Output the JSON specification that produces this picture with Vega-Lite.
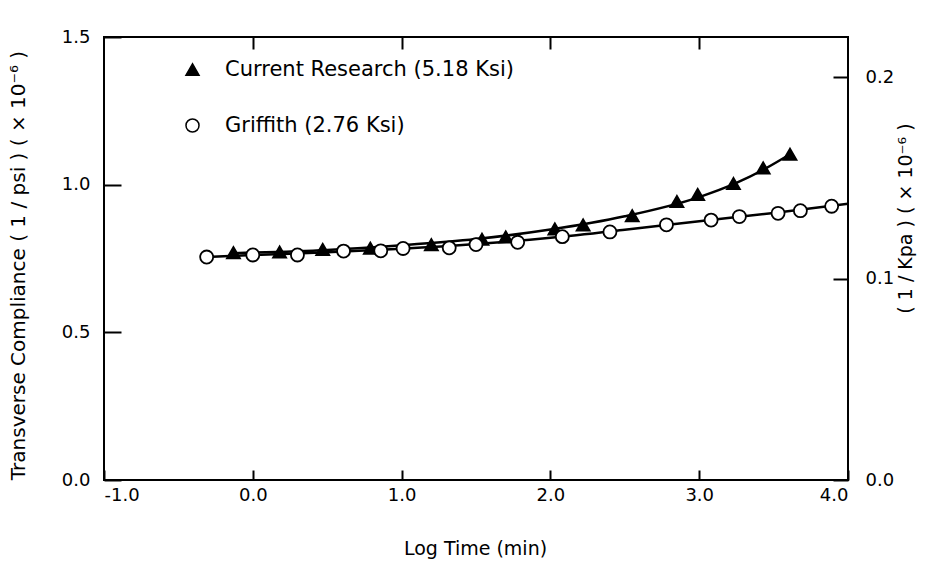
{
  "$schema": "https://vega.github.io/schema/vega-lite/v6.json",
  "width": 744,
  "height": 443,
  "autosize": {"type": "none"},
  "padding": {"left": 104, "top": 37, "right": 95, "bottom": 90},
  "background": "white",
  "config": {
    "view": {"stroke": "black", "strokeWidth": 2},
    "font": "DejaVu Sans",
    "axis": {
      "grid": false,
      "domain": false,
      "tickColor": "black",
      "tickWidth": 2,
      "labelColor": "black",
      "titleColor": "black",
      "labelFont": "DejaVu Sans",
      "titleFont": "DejaVu Sans",
      "labelFontSize": 18,
      "titleFontSize": 19,
      "titleFontWeight": "normal"
    }
  },
  "datasets": {
    "curves": [
      {"series": "Griffith (2.76 Ksi)", "logTime": -0.31, "compliance": 0.755},
      {"series": "Griffith (2.76 Ksi)", "logTime": 0.0, "compliance": 0.762},
      {"series": "Griffith (2.76 Ksi)", "logTime": 0.5, "compliance": 0.771},
      {"series": "Griffith (2.76 Ksi)", "logTime": 1.0, "compliance": 0.783},
      {"series": "Griffith (2.76 Ksi)", "logTime": 1.5, "compliance": 0.799},
      {"series": "Griffith (2.76 Ksi)", "logTime": 2.0, "compliance": 0.82},
      {"series": "Griffith (2.76 Ksi)", "logTime": 2.5, "compliance": 0.847},
      {"series": "Griffith (2.76 Ksi)", "logTime": 3.0, "compliance": 0.876},
      {"series": "Griffith (2.76 Ksi)", "logTime": 3.5, "compliance": 0.904},
      {"series": "Griffith (2.76 Ksi)", "logTime": 4.0, "compliance": 0.935},
      {"series": "Current Research (5.18 Ksi)", "logTime": -0.13, "compliance": 0.768},
      {"series": "Current Research (5.18 Ksi)", "logTime": 0.5, "compliance": 0.779},
      {"series": "Current Research (5.18 Ksi)", "logTime": 1.0, "compliance": 0.795},
      {"series": "Current Research (5.18 Ksi)", "logTime": 1.5, "compliance": 0.816},
      {"series": "Current Research (5.18 Ksi)", "logTime": 2.0, "compliance": 0.848},
      {"series": "Current Research (5.18 Ksi)", "logTime": 2.5, "compliance": 0.893},
      {"series": "Current Research (5.18 Ksi)", "logTime": 3.0, "compliance": 0.958},
      {"series": "Current Research (5.18 Ksi)", "logTime": 3.25, "compliance": 1.006},
      {"series": "Current Research (5.18 Ksi)", "logTime": 3.45, "compliance": 1.056},
      {"series": "Current Research (5.18 Ksi)", "logTime": 3.61, "compliance": 1.103}
    ],
    "markers": [
      {"series": "Current Research (5.18 Ksi)", "logTime": -0.13, "compliance": 0.77},
      {"series": "Current Research (5.18 Ksi)", "logTime": 0.18, "compliance": 0.772},
      {"series": "Current Research (5.18 Ksi)", "logTime": 0.47, "compliance": 0.781},
      {"series": "Current Research (5.18 Ksi)", "logTime": 0.79, "compliance": 0.785},
      {"series": "Current Research (5.18 Ksi)", "logTime": 1.2, "compliance": 0.797},
      {"series": "Current Research (5.18 Ksi)", "logTime": 1.54, "compliance": 0.815},
      {"series": "Current Research (5.18 Ksi)", "logTime": 1.7, "compliance": 0.823},
      {"series": "Current Research (5.18 Ksi)", "logTime": 2.03, "compliance": 0.85},
      {"series": "Current Research (5.18 Ksi)", "logTime": 2.22, "compliance": 0.864},
      {"series": "Current Research (5.18 Ksi)", "logTime": 2.55, "compliance": 0.895},
      {"series": "Current Research (5.18 Ksi)", "logTime": 2.85, "compliance": 0.943},
      {"series": "Current Research (5.18 Ksi)", "logTime": 2.99, "compliance": 0.967},
      {"series": "Current Research (5.18 Ksi)", "logTime": 3.23, "compliance": 1.004},
      {"series": "Current Research (5.18 Ksi)", "logTime": 3.43, "compliance": 1.057},
      {"series": "Current Research (5.18 Ksi)", "logTime": 3.61, "compliance": 1.103},
      {"series": "Griffith (2.76 Ksi)", "logTime": -0.31, "compliance": 0.755},
      {"series": "Griffith (2.76 Ksi)", "logTime": 0.0, "compliance": 0.762},
      {"series": "Griffith (2.76 Ksi)", "logTime": 0.3, "compliance": 0.762},
      {"series": "Griffith (2.76 Ksi)", "logTime": 0.61, "compliance": 0.775},
      {"series": "Griffith (2.76 Ksi)", "logTime": 0.86, "compliance": 0.776},
      {"series": "Griffith (2.76 Ksi)", "logTime": 1.01, "compliance": 0.784},
      {"series": "Griffith (2.76 Ksi)", "logTime": 1.32, "compliance": 0.786},
      {"series": "Griffith (2.76 Ksi)", "logTime": 1.5, "compliance": 0.797},
      {"series": "Griffith (2.76 Ksi)", "logTime": 1.78, "compliance": 0.805},
      {"series": "Griffith (2.76 Ksi)", "logTime": 2.08, "compliance": 0.824},
      {"series": "Griffith (2.76 Ksi)", "logTime": 2.4, "compliance": 0.84},
      {"series": "Griffith (2.76 Ksi)", "logTime": 2.78, "compliance": 0.864},
      {"series": "Griffith (2.76 Ksi)", "logTime": 3.08, "compliance": 0.88},
      {"series": "Griffith (2.76 Ksi)", "logTime": 3.27, "compliance": 0.892},
      {"series": "Griffith (2.76 Ksi)", "logTime": 3.53, "compliance": 0.903},
      {"series": "Griffith (2.76 Ksi)", "logTime": 3.68, "compliance": 0.912},
      {"series": "Griffith (2.76 Ksi)", "logTime": 3.89, "compliance": 0.927}
    ]
  },
  "layer": [
    {
      "data": {"name": "curves"},
      "mark": {"type": "line", "color": "black", "strokeWidth": 2.5, "interpolate": "monotone"},
      "encoding": {
        "x": {
          "field": "logTime", "type": "quantitative",
          "scale": {"domain": [-1, 4], "nice": false, "zero": false},
          "axis": {
            "orient": "bottom", "values": [-1, 0, 1, 2, 3, 4], "format": ".1f",
            "labelExpr": "replace(datum.label, '\u2212', '-')",
            "tickSize": -10, "labelPadding": 16,
            "title": "Log Time (min)",
            "titleX": 371, "titleY": 68, "titleAlign": "center", "titleBaseline": "middle"
          }
        },
        "y": {
          "field": "compliance", "type": "quantitative",
          "scale": {"domain": [0, 1.5], "nice": false},
          "axis": {
            "orient": "left", "values": [0, 0.5, 1, 1.5], "format": ".1f",
            "tickSize": -17, "labelPadding": 31,
            "title": "Transverse Compliance  ( 1 / psi ) ( × 10⁻⁶ )",
            "titleFontSize": 20,
            "titleAngle": 270, "titleX": -86, "titleY": 228, "titleAlign": "center", "titleBaseline": "middle"
          }
        },
        "detail": {"field": "series"}
      }
    },
    {
      "data": {"name": "markers"},
      "mark": {"type": "point", "filled": true, "stroke": "black", "strokeWidth": 1.8, "opacity": 1},
      "encoding": {
        "x": {"field": "logTime", "type": "quantitative", "scale": {"domain": [-1, 4], "nice": false, "zero": false}, "axis": null},
        "y": {"field": "compliance", "type": "quantitative", "scale": {"domain": [0, 1.5], "nice": false}, "axis": null},
        "shape": {
          "field": "series", "type": "nominal",
          "scale": {"domain": ["Current Research (5.18 Ksi)", "Griffith (2.76 Ksi)"], "range": ["triangle-up", "circle"]},
          "legend": {
            "orient": "none", "legendX": 78, "legendY": 22, "title": null,
            "labelFontSize": 21, "labelFont": "DejaVu Sans", "labelColor": "black", "labelLimit": 0,
            "rowPadding": 34, "labelOffset": 22, "symbolSize": 170,
            "encode": {"symbols": {"update": {"stroke": {"value": "black"}, "strokeWidth": {"value": 1.8}, "opacity": {"value": 1}}}}
          }
        },
        "fill": {
          "field": "series", "type": "nominal",
          "scale": {"domain": ["Current Research (5.18 Ksi)", "Griffith (2.76 Ksi)"], "range": ["black", "white"]},
          "legend": {
            "orient": "none", "legendX": 78, "legendY": 22, "title": null,
            "labelFontSize": 21, "labelFont": "DejaVu Sans", "labelColor": "black", "labelLimit": 0,
            "rowPadding": 34, "labelOffset": 22, "symbolSize": 170,
            "encode": {"symbols": {"update": {"stroke": {"value": "black"}, "strokeWidth": {"value": 1.8}, "opacity": {"value": 1}}}}
          }
        },
        "size": {"value": 170}
      }
    },
    {
      "data": {"values": [{}]},
      "mark": {"type": "rule", "opacity": 0},
      "encoding": {
        "x": {
          "datum": 0, "type": "quantitative",
          "scale": {"domain": [-1, 4], "nice": false, "zero": false},
          "axis": {"orient": "top", "values": [0, 1, 2, 3], "labels": false, "tickSize": -12, "title": null}
        },
        "y": {
          "datum": 0, "type": "quantitative",
          "scale": {"domain": [0, 0.22], "nice": false},
          "axis": {
            "orient": "right", "values": [0, 0.1, 0.2], "format": ".1f",
            "tickSize": -15, "labelPadding": 32,
            "title": "( 1 / Kpa ) ( × 10⁻⁶ )",
            "titleFontSize": 19,
            "titleAngle": 270, "titleX": 57, "titleY": 181, "titleAlign": "center", "titleBaseline": "middle"
          }
        }
      }
    }
  ],
  "resolve": {"scale": {"y": "independent"}, "axis": {"x": "independent", "y": "independent"}}
}
